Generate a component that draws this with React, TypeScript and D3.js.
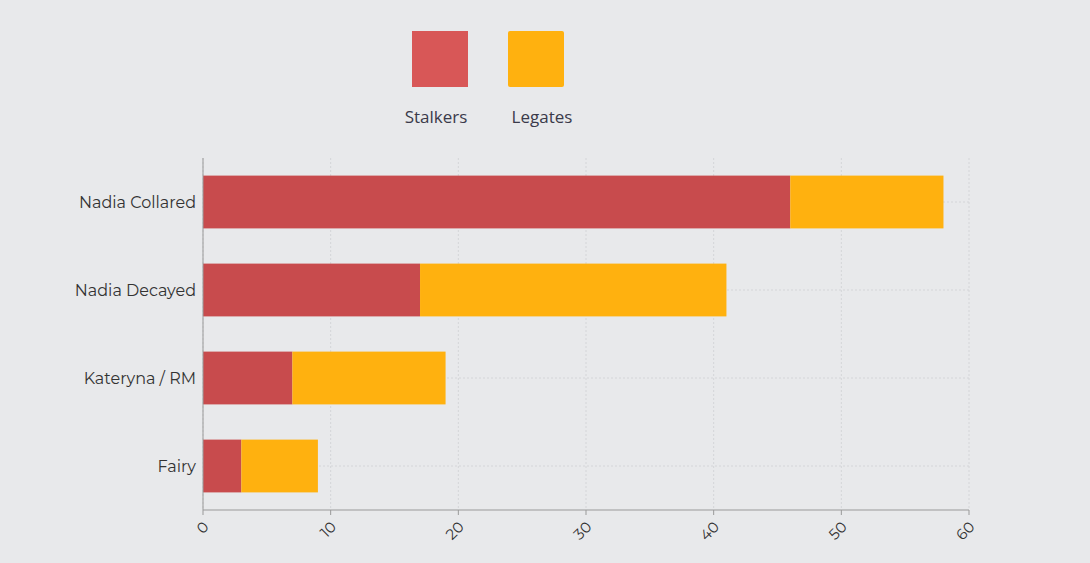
import * as d3 from "d3";

const categories = ["Nadia Collared", "Nadia Decayed", "Kateryna / RM", "Fairy"];
const stalkers = [46, 17, 7, 3];
const legates = [12, 24, 12, 6];
const seriesNames = ["Stalkers", "Legates"];
const barColors = ["#c84b4d", "#ffb10f"];
const legendColors = ["#d85757", "#ffb10f"];
const xTicks = [0, 10, 20, 30, 40, 50, 60];

const W = 1090, H = 563;
const left = 203, right = 969, top = 158, bottom = 510;

export default function App() {
  const x = d3.scaleLinear().domain([0, 60]).range([left, right]);
  const y = d3.scaleBand().domain(categories).range([top, bottom]).paddingInner(0.4).paddingOuter(0.2);
  const font = "Montserrat, 'Open Sans', sans-serif";
  return (
    <div style={{ position: "fixed", left: 0, top: 0 }}>
      <svg width={W} height={H} style={{ display: "block", background: "#e8e9eb" }}>
        {xTicks.map((t) => (
          <line key={t} x1={x(t)} x2={x(t)} y1={top} y2={bottom} stroke="#d4d5d8" strokeDasharray="2,2" />
        ))}
        {categories.map((c) => (
          <line key={c} x1={left} x2={right} y1={y(c)! + y.bandwidth() / 2} y2={y(c)! + y.bandwidth() / 2} stroke="#d4d5d8" strokeDasharray="2,2" />
        ))}
        {categories.map((c, i) => (
          <g key={c}>
            <rect x={x(0)} y={y(c)} width={x(stalkers[i]) - x(0)} height={y.bandwidth()} fill={barColors[0]} />
            <rect x={x(stalkers[i])} y={y(c)} width={x(stalkers[i] + legates[i]) - x(stalkers[i])} height={y.bandwidth()} fill={barColors[1]} />
            <text x={left - 7} y={y(c)! + y.bandwidth() / 2} dy="0.35em" textAnchor="end" fontFamily={font} fontSize={16} fill="#333">{c}</text>
          </g>
        ))}
        <line x1={left} x2={left} y1={top} y2={bottom} stroke="#999" />
        <line x1={left} x2={right} y1={bottom} y2={bottom} stroke="#999" />
        {xTicks.map((t) => (
          <g key={t} transform={`translate(${x(t)},${bottom})`}>
            <line y2={5} stroke="#999" />
            <text transform="translate(3,14) rotate(-45)" textAnchor="end" dy="0.35em" fontFamily={font} fontSize={15} fill="#333">{t}</text>
          </g>
        ))}
        {seriesNames.map((s, i) => (
          <g key={s} transform={`translate(${412 + i * 96},31)`}>
            <rect width={56} height={56} rx={i === 1 ? 2 : 0} fill={legendColors[i]} />
            <text x={i === 0 ? 24 : 34} y={92} textAnchor="middle" fontFamily="'Open Sans', sans-serif" fontSize={17} fill="#3a3a4a">{s}</text>
          </g>
        ))}
      </svg>
    </div>
  );
}
